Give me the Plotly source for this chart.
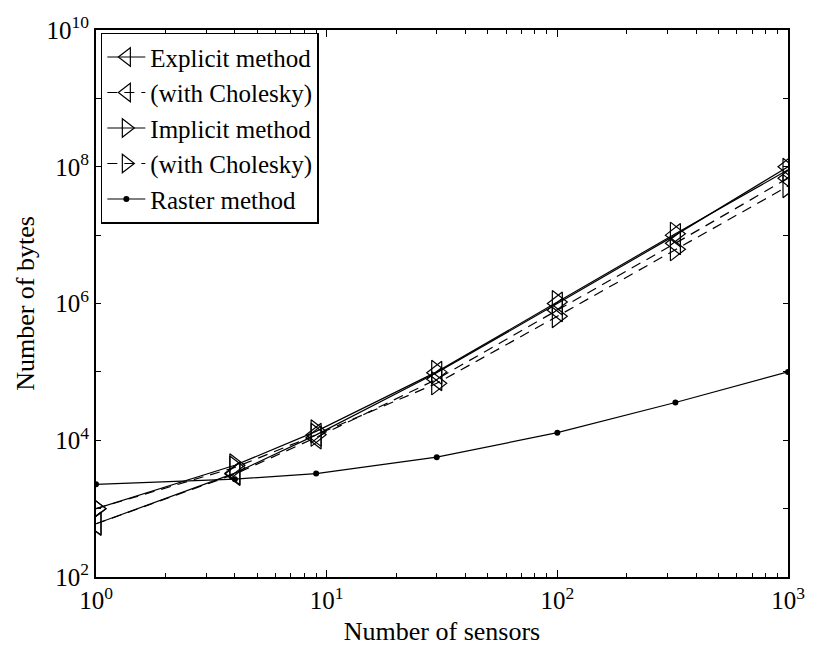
import plotly.graph_objects as go

sensors = [1, 4, 9, 30, 100, 325, 1000]
explicit = [600, 3300, 12000, 97000, 1.0e6, 1.0e7, 1.0e8]
explicit_chol = [600, 3200, 11000, 78000, 8.0e5, 7.6e6, 6.8e7]
implicit = [1000, 4300, 13500, 100000, 1.05e6, 1.05e7, 9.0e7]
implicit_chol = [1000, 4000, 12000, 68000, 6.5e5, 6.2e6, 5.2e7]
raster = [2270, 2700, 3250, 5650, 12900, 35600, 100000]

names = ["Explicit method", "(with Cholesky)", "Implicit method", "(with Cholesky)", "Raster method"]

FONT = "Liberation Serif"
fig = go.Figure()

def tri(y, name, sym, dash):
    fig.add_trace(go.Scatter(
        x=sensors, y=y, name=name, mode="lines+markers",
        line=dict(color="black", width=1.2, dash=dash),
        marker=dict(symbol=sym, size=20, color="black", line=dict(width=1.2, color="black")),
    ))

tri(explicit, names[0], "triangle-left-open", "solid")
tri(explicit_chol, names[1], "triangle-left-open", "10px,7px")
tri(implicit, names[2], "triangle-right-open", "solid")
tri(implicit_chol, names[3], "triangle-right-open", "10px,7px")
fig.add_trace(go.Scatter(
    x=sensors, y=raster, name=names[4], mode="lines+markers",
    line=dict(color="black", width=1.2),
    marker=dict(symbol="circle", size=6, color="black"),
))

xt = [1, 10, 100, 1000]
xtt = ["10<sup>%d</sup>" % i for i in range(4)]
yt = [10 ** k for k in range(2, 11)]
ytt = ["10<sup>%d</sup>" % k if k % 2 == 0 else "" for k in range(2, 11)]

fig.update_layout(
    width=817, height=654,
    margin=dict(l=96, r=19, t=19, b=77),
    paper_bgcolor="white", plot_bgcolor="white",
    font=dict(family=FONT, size=25, color="black"),
    showlegend=True,
    legend=dict(x=0.007, y=0.995, xanchor="left", yanchor="top",
                bordercolor="black", borderwidth=1.5, bgcolor="white",
                itemwidth=38, tracegroupgap=0,
                font=dict(family=FONT, size=25)),
    xaxis=dict(type="log", range=[0, 3], tickvals=xt, ticktext=xtt,
               ticks="inside", ticklen=7, tickwidth=1, tickcolor="black",
               tickfont=dict(family=FONT, size=25),
               minor=dict(ticks="inside", ticklen=4, tickcolor="black", tickwidth=1, dtick="D1", showgrid=False),
               showline=True, linecolor="black", linewidth=2, mirror="allticks",
               showgrid=False, zeroline=False,
               title=dict(text="Number of sensors", standoff=9, font=dict(family=FONT, size=26))),
    yaxis=dict(type="log", range=[2, 10], tickvals=yt, ticktext=ytt,
               ticks="inside", ticklen=5, tickwidth=1, tickcolor="black",
               tickfont=dict(family=FONT, size=25),
               showline=True, linecolor="black", linewidth=2, mirror="allticks",
               showgrid=False, zeroline=False,
               title=dict(text="Number of bytes", standoff=4, font=dict(family=FONT, size=26))),
)

fig.write_html("out.html")
